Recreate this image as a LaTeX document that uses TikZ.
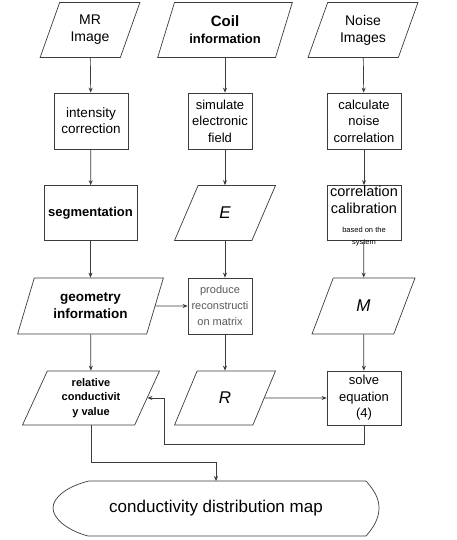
\documentclass[tikz,border=0pt]{standalone}
\usepackage{fontspec}
\setmainfont{Liberation Sans}
\usetikzlibrary{shapes.geometric,arrows.meta}
\definecolor{lineGray}{RGB}{60,60,60}
\definecolor{textGray}{RGB}{90,90,90}

\begin{document}
\begin{tikzpicture}[x=1pt,y=-1pt,
        line width=0.7pt,
        >={Stealth[length=5pt,width=4pt]},
        every path/.style={draw=lineGray},
        box/.style={draw,rectangle,inner sep=0pt,align=center},
        data/.style={draw,trapezium,trapezium left angle=67,trapezium right angle=113,
            trapezium stretches=true,inner sep=0pt,align=center,minimum height=55pt}]
        \useasboundingbox[fill=white,draw=none] (0,0) rectangle (457,540);
        % inputs
        \node[data,minimum width=100pt,font=\fontsize{14}{17}\selectfont] (mr) at (90,30) {MR\\Image};
        \node[data,minimum width=136pt,font=\fontsize{13}{17}\selectfont\bfseries] (coil) at (225,30) {\fontsize{15}{17}\selectfont Coil\\information};
        \node[data,minimum width=110pt,font=\fontsize{14}{17}\selectfont] (noise) at (363,30) {Noise\\Images};
        % second row
        \node[box,minimum width=74pt,minimum height=56pt,font=\fontsize{13.5}{16}\selectfont] (intens) at (91,121) {intensity\\correction};
        \node[box,minimum width=64pt,minimum height=56pt,font=\fontsize{13}{16.5}\selectfont] (simul) at (220,121) {simulate\\electronic\\field};
        \node[box,minimum width=74pt,minimum height=56pt,font=\fontsize{13}{16.5}\selectfont] (calc) at (364,121) {calculate\\noise\\correlation};
        % third row
        \node[box,minimum width=93pt,minimum height=55pt,font=\fontsize{13}{16}\selectfont\bfseries] (segm) at (90.5,213) {segmentation};
        \node[data,minimum width=101pt,font=\fontsize{17}{20}\selectfont\itshape] (efield) at (225,213) {E};
        \node[box,minimum width=74pt,minimum height=55pt] (calib) at (364,213) {};
        \node[align=center,inner sep=0pt,font=\fontsize{14.5}{17}\selectfont] (calibtxt) at (364,216) {correlation\\calibration\\[2pt]\fontsize{7.5}{11}\selectfont based on the\\[-4.5pt]\fontsize{7.5}{11}\selectfont system};
        % fourth row
        \node[data,minimum width=147pt,minimum height=56pt,font=\fontsize{13.5}{17}\selectfont\bfseries] (geom) at (90.5,306) {geometry\\information};
        \node[box,minimum width=64pt,minimum height=56pt,text=textGray,font=\fontsize{11}{16}\selectfont] (recon) at (220,306) {produce\\reconstructi\\on matrix};
        \node[data,minimum width=103pt,minimum height=56pt,font=\fontsize{17}{20}\selectfont\itshape] (mmat) at (363.5,306) {M};
        % fifth row
        \node[data,minimum width=138pt,minimum height=54pt,font=\fontsize{11}{14.5}\selectfont\bfseries] (relcond) at (91,398) {relative\\conductivit\\y value};
        \node[data,minimum width=101pt,minimum height=54pt,font=\fontsize{17}{20}\selectfont\itshape] (rmat) at (225,398) {R};
        \node[box,minimum width=74pt,minimum height=54pt,font=\fontsize{13}{16.5}\selectfont] (solve) at (364,398) {solve\\equation\\(4)};
        % output
        \node[inner sep=0pt,font=\fontsize{17}{20}\selectfont] (map) at (216,508) {conductivity distribution map};
        \draw (89,481) -- (366,481) .. controls (374,490) and (379,498) .. (379,508)
            .. controls (379,518) and (374,527) .. (366,536) -- (88,536)
            .. controls (66,530) and (53,518) .. (53,508)
            .. controls (53,497) and (68,486) .. (89,481);
        % flow
        \draw[->] (mr) -- (intens);
        \draw[->] (intens) -- (segm);
        \draw[->] (segm) -- (geom);
        \draw[->] (geom) -- (relcond);
        \draw[->] (coil.south) -- (coil.south |- simul.north);
        \draw[->] (simul.south -| efield.center) -- (efield.north -| efield.center);
        \draw[->] (efield.south) -- (efield.south |- recon.north);
        \draw[->] (recon.south -| rmat.center) -- (rmat.north -| rmat.center);
        \draw[->] (noise) -- (calc);
        \draw[->] (calc) -- (calib);
        \draw[->] (calib) -- (mmat);
        \draw[->] (mmat) -- (solve);
        \draw[->] (geom.east) -- (recon.west);
        \draw[->] (rmat.east) -- (solve.west);
        \coordinate (back) at (164,444);
        \draw[->] (solve.south) |- (back) |- (relcond.east);
        \coordinate (join) at (216,462);
        \draw[->] (relcond.south) |- (join) -- (map.north |- 0,481);
    \end{tikzpicture}
\end{document}
